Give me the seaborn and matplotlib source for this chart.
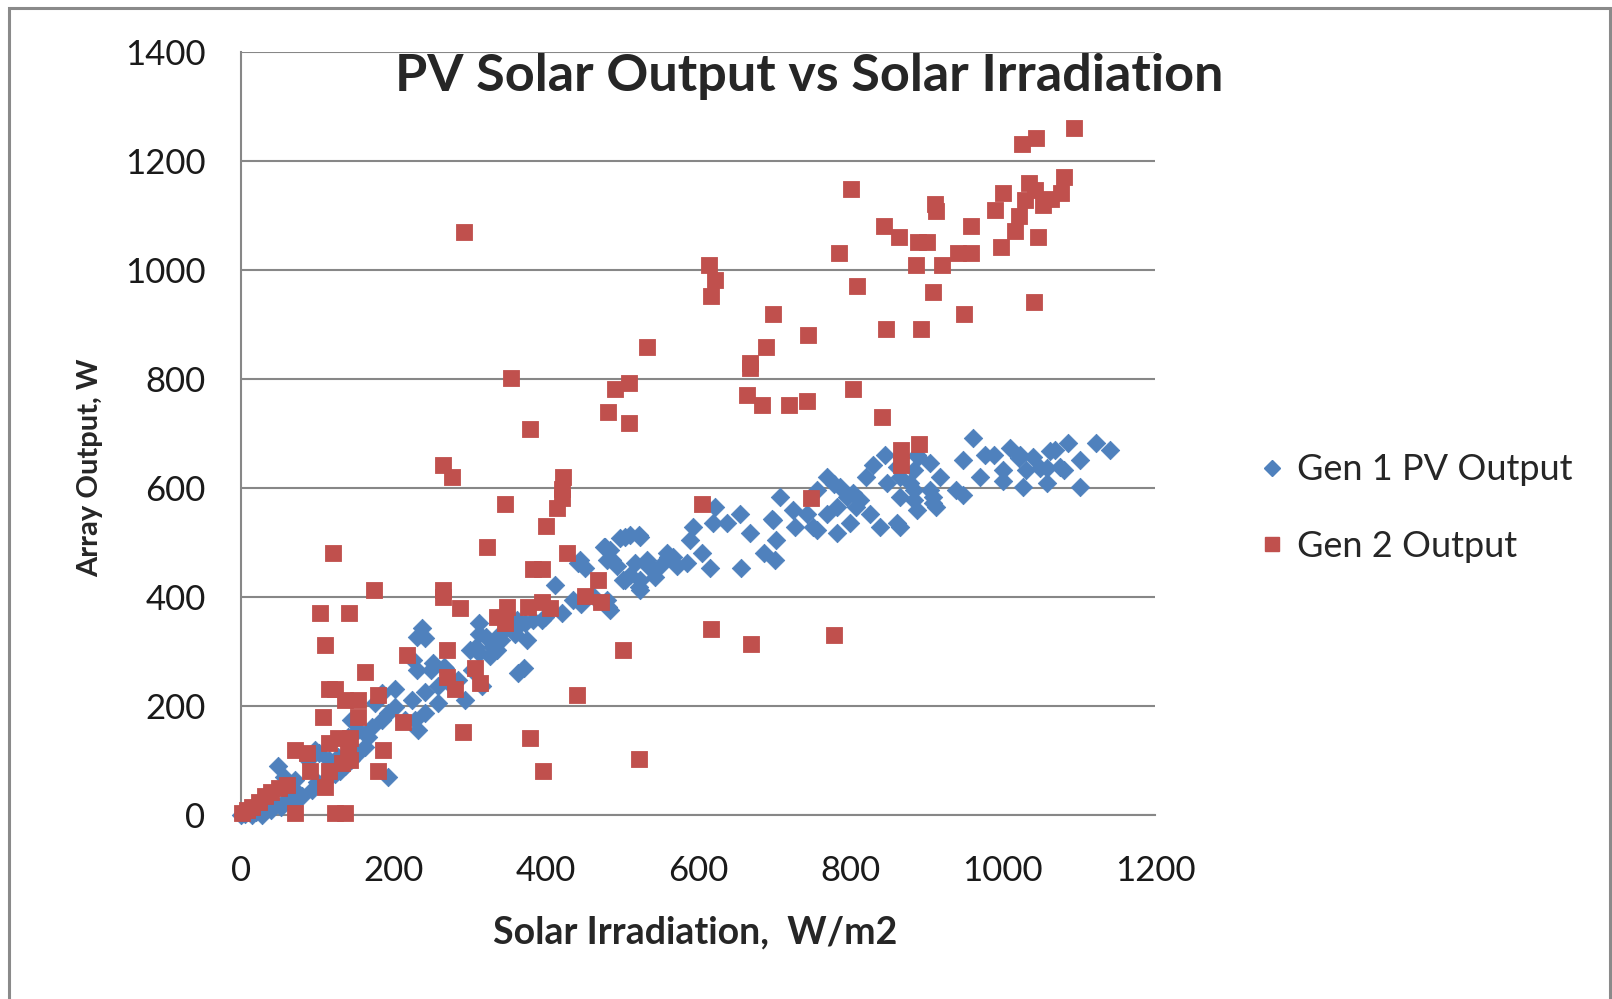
import matplotlib
matplotlib.use('Agg')
import matplotlib.pyplot as plt
import seaborn as sns
import pandas as pd
from matplotlib.patches import Rectangle
from matplotlib.lines import Line2D

# Gen 1 PV output (W) against solar irradiation (W/m2)
gen1_x = [0, 5, 10, 14, 20, 27, 30, 40, 45, 53, 60, 67, 75, 80, 93, 100, 106, 115, 123, 130,
          137, 145, 154, 163, 167, 172, 185, 193, 202, 215, 228, 233, 242, 259, 294, 316, 277, 259, 242, 224,
          202, 185, 176, 145, 154, 141, 128, 115, 102, 97, 88, 71, 56, 49, 193, 231, 250, 268, 285, 303,
          312, 329, 342, 360, 368, 312, 364, 237, 242, 312, 373, 395, 421, 447, 482, 412, 443, 478, 487, 504,
          522, 517, 535, 561, 543, 504, 522, 622, 620, 594, 589, 605, 616, 585, 567, 559, 572, 550, 537, 533,
          524, 511, 497, 484, 476, 480, 493, 502, 524, 524, 511, 445, 452, 436, 480, 484, 463, 399, 384, 362,
          353, 340, 322, 309, 301, 231, 375, 336, 327, 371, 252, 226, 266, 638, 655, 668, 657, 686, 701, 703,
          699, 708, 725, 727, 743, 751, 756, 756, 769, 782, 782, 786, 795, 804, 808, 813, 826, 839, 861, 883,
          909, 913, 918, 905, 887, 830, 845, 848, 865, 878, 821, 883, 861, 948, 961, 970, 948, 977, 988, 778,
          799, 769, 697, 887, 865, 909, 939, 1001, 1001, 1010, 1023, 1027, 1031, 1040, 1049, 1058, 1058, 1062, 1069, 1075,
          1080, 1086, 1101, 1102, 1123, 1141, 905, 883, 889, 1021, 865]
gen1_y = [0, 2, 5, 0, 5, 0, 10, 9, 20, 15, 30, 21, 40, 34, 46, 60, 58, 70, 76, 80,
          89, 101, 113, 125, 144, 162, 174, 187, 199, 174, 174, 156, 187, 205, 211, 236, 236, 236, 226, 211,
          232, 223, 205, 174, 156, 144, 107, 101, 113, 119, 101, 64, 70, 89, 70, 266, 266, 269, 248, 266,
          297, 309, 321, 333, 352, 333, 260, 343, 324, 352, 352, 358, 370, 388, 382, 422, 462, 492, 468, 511,
          514, 462, 456, 474, 437, 431, 419, 566, 535, 529, 505, 480, 453, 462, 474, 480, 456, 456, 456, 468,
          511, 514, 508, 486, 492, 468, 456, 431, 431, 413, 440, 468, 453, 394, 394, 376, 400, 364, 358, 358,
          346, 333, 327, 309, 303, 327, 321, 303, 291, 269, 278, 284, 272, 535, 553, 517, 453, 480, 468, 505,
          541, 584, 560, 529, 553, 529, 596, 523, 621, 566, 517, 602, 584, 590, 566, 578, 553, 529, 535, 578,
          584, 566, 621, 645, 661, 642, 661, 609, 621, 609, 621, 633, 639, 651, 691, 621, 587, 661, 661, 608,
          535, 553, 544, 560, 584, 572, 596, 633, 612, 673, 661, 602, 633, 657, 636, 609, 636, 667, 670, 639,
          633, 682, 602, 651, 682, 670, 596, 596, 657, 655, 529]

# Gen 2 output (W)
gen2_x = [1, 8, 14, 23, 31, 40, 50, 60, 71, 123, 137, 110, 91, 115, 180, 132, 143, 141, 71, 86,
          187, 115, 128, 143, 108, 154, 213, 292, 154, 137, 115, 123, 180, 163, 110, 218, 270, 270, 281, 307,
          314, 104, 142, 121, 175, 265, 265, 288, 265, 277, 293, 323, 336, 347, 349, 377, 395, 406, 347, 354,
          379, 384, 395, 379, 397, 400, 415, 421, 421, 423, 428, 441, 452, 469, 473, 482, 491, 502, 510, 510,
          522, 533, 605, 617, 670, 749, 778, 867, 867, 890, 842, 615, 622, 617, 664, 668, 668, 684, 689, 699,
          719, 743, 745, 785, 801, 804, 809, 844, 847, 864, 886, 889, 893, 900, 908, 911, 913, 921, 942, 949,
          959, 959, 990, 998, 1000, 1016, 1021, 1026, 1029, 1034, 1041, 1042, 1044, 1046, 1053, 1064, 1077, 1081, 1093]
gen2_y = [3, 10, 15, 24, 34, 43, 49, 55, 3, 3, 3, 52, 80, 80, 80, 95, 101, 116, 119, 113,
          119, 132, 141, 141, 180, 180, 171, 153, 211, 211, 232, 232, 220, 263, 312, 294, 303, 254, 232, 269,
          242, 370, 370, 480, 413, 413, 400, 380, 642, 621, 1070, 492, 364, 352, 382, 381, 391, 379, 571, 802,
          709, 452, 452, 142, 81, 530, 563, 581, 599, 621, 480, 220, 402, 431, 391, 740, 781, 303, 792, 719,
          102, 859, 571, 341, 313, 581, 331, 670, 642, 681, 731, 1009, 982, 952, 771, 829, 820, 752, 859, 920,
          752, 760, 881, 1031, 1149, 781, 971, 1081, 892, 1060, 1009, 1052, 892, 1052, 959, 1121, 1108, 1009, 1031, 920,
          1081, 1031, 1110, 1042, 1142, 1072, 1099, 1231, 1128, 1159, 942, 1147, 1242, 1060, 1119, 1131, 1142, 1170, 1260]

blue = '#4F81BD'
red = '#C0504D'
grid_grey = '#878787'

sns.set_style('white')
plt.rcParams['font.family'] = ['Lato', 'DejaVu Sans']

df1 = pd.DataFrame({'irr': gen1_x, 'out': gen1_y})
df2 = pd.DataFrame({'irr': gen2_x, 'out': gen2_y})

fig = plt.figure(figsize=(16.12, 9.99), dpi=100)
ax = fig.add_axes([241 / 1612, 1 - 815 / 999, (1155 - 241) / 1612, (815 - 52) / 999])

sns.scatterplot(data=df1, x='irr', y='out', ax=ax, marker='D', s=88, color=blue,
                edgecolor=blue, linewidth=0.6, clip_on=False, zorder=3)
sns.scatterplot(data=df2, x='irr', y='out', ax=ax, marker='s', s=120, color=red,
                edgecolor=red, linewidth=0.6, clip_on=False, zorder=4)

ax.set_xlim(0, 1200)
ax.set_ylim(0, 1400)
ax.set_xticks(range(0, 1201, 200))
ax.set_yticks(range(0, 1401, 200))
ax.yaxis.grid(True, color=grid_grey, linewidth=1.5)
ax.set_axisbelow(True)

for side in ['top', 'right']:
    ax.spines[side].set_visible(False)
for side in ['left', 'bottom']:
    ax.spines[side].set_color(grid_grey)
    ax.spines[side].set_linewidth(1.5)

ax.tick_params(axis='both', direction='out', length=9.5, width=1.5, color=grid_grey,
               labelsize=25, labelcolor='#1a1a1a')
ax.tick_params(axis='y', pad=16)
ax.tick_params(axis='x', pad=19)

ax.set_xlabel('Solar Irradiation,  W/m2', fontsize=27, fontweight='bold')
ax.xaxis.set_label_coords(0.497, -0.132)
ax.set_ylabel('Array Output, W', fontsize=21, fontweight='bold')
ax.yaxis.set_label_coords(-0.151, 0.455)

fig.text(809 / 1612, 1 - 77 / 999, 'PV Solar Output vs Solar Irradiation', ha='center', va='center',
         fontsize=37.5, fontweight='bold')

handles = [Line2D([], [], linestyle='none', marker='D', markersize=8, color=blue),
           Line2D([], [], linestyle='none', marker='s', markersize=9.5, color=red)]
fig.legend(handles, ['Gen 1 PV Output', 'Gen 2 Output'], loc='center left',
           bbox_to_anchor=(1243 / 1612, 1 - 508 / 999), frameon=False, fontsize=26,
           handlelength=0.6, handletextpad=0.4, labelspacing=1.2, borderpad=0)

fig.patches.append(Rectangle((9 / 1612, -0.05), (1610 - 9) / 1612, 1.05 - 8 / 999,
                             transform=fig.transFigure, fill=False, edgecolor='#8a8a8a',
                             linewidth=2.2))

fig.savefig('out.png', dpi=100)
